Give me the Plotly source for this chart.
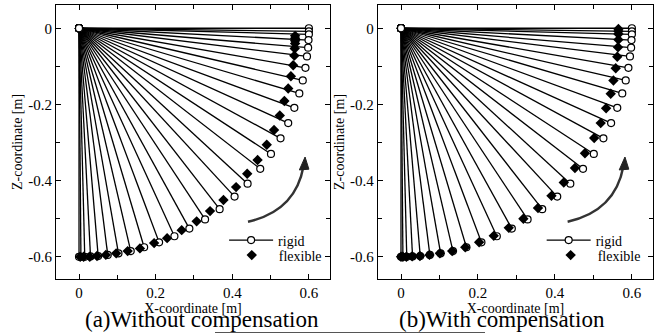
import plotly.graph_objects as go

# ---- data ----
rigid_x = [0.600, 0.600, 0.600, 0.599, 0.598, 0.595, 0.591, 0.584, 0.575, 0.562,
           0.546, 0.526, 0.501, 0.473, 0.440, 0.406, 0.367, 0.329, 0.288, 0.249,
           0.209, 0.170, 0.135, 0.103, 0.075, 0.050, 0.030, 0.015, 0.005, 0.000]
rigid_z = [0.000, -0.008, -0.016, -0.031, -0.051, -0.074, -0.104, -0.137, -0.171, -0.209,
           -0.249, -0.289, -0.330, -0.369, -0.408, -0.442, -0.475, -0.502, -0.526, -0.546,
           -0.562, -0.575, -0.585, -0.591, -0.595, -0.598, -0.599, -0.600, -0.600, -0.600]

flex_a_x = [0.564, 0.564, 0.564, 0.564, 0.563, 0.562, 0.559, 0.553, 0.546, 0.536,
            0.524, 0.509, 0.490, 0.466, 0.439, 0.410, 0.377, 0.342, 0.307, 0.268,
            0.230, 0.196, 0.159, 0.127, 0.097, 0.070, 0.047, 0.028, 0.012, 0.003]
flex_a_z = [-0.020, -0.026, -0.033, -0.040, -0.053, -0.072, -0.097, -0.126, -0.158, -0.191,
            -0.229, -0.267, -0.306, -0.346, -0.382, -0.417, -0.451, -0.480, -0.507, -0.530,
            -0.551, -0.564, -0.578, -0.585, -0.591, -0.595, -0.598, -0.600, -0.600, -0.600]

flex_b_x = [0.565, 0.565, 0.565, 0.565, 0.564, 0.562, 0.558, 0.552, 0.545, 0.533,
            0.519, 0.502, 0.478, 0.452, 0.423, 0.391, 0.356, 0.318, 0.280, 0.241,
            0.203, 0.167, 0.133, 0.101, 0.074, 0.049, 0.029, 0.014, 0.005, 0.000]
flex_b_z = [-0.002, -0.008, -0.015, -0.030, -0.050, -0.075, -0.105, -0.137, -0.172, -0.210,
            -0.249, -0.288, -0.328, -0.367, -0.405, -0.440, -0.472, -0.500, -0.524, -0.545,
            -0.562, -0.575, -0.585, -0.591, -0.595, -0.598, -0.599, -0.600, -0.600, -0.600]

origin = (0.0, 0.0)
x_tick_vals = [0, 0.2, 0.4, 0.6]
x_tick_text = ["0", "0.2", "0.4", "0.6"]
z_tick_vals = [0, -0.2, -0.4, -0.6]
z_tick_text = ["0", "-0.2", "-0.4", "-0.6"]
captions = ["(a)Without compensation", "(b)With compensation"]

FONT = "Liberation Serif, DejaVu Serif, Times New Roman, serif"

def link_lines(xs, zs):
    lx, lz = [], []
    for x, z in zip(xs, zs):
        lx += [origin[0], x, None]
        lz += [origin[1], z, None]
    return lx, lz

fig = go.Figure()
lx, lz = link_lines(rigid_x, rigid_z)

panels = [("x", "y", "legend", "legend3", flex_a_x, flex_a_z),
          ("x2", "y2", "legend2", "legend4", flex_b_x, flex_b_z)]
for xa, ya, lg_r, lg_f, fx, fz in panels:
    fig.add_trace(go.Scatter(
        x=lx, y=lz, mode="lines+markers", name="rigid", xaxis=xa, yaxis=ya, legend=lg_r,
        line=dict(color="black", width=1.3),
        marker=dict(symbol="circle", size=7, color="white", line=dict(color="black", width=1.2)),
    ))
    fig.add_trace(go.Scatter(
        x=fx, y=fz, mode="markers", name="flexible", xaxis=xa, yaxis=ya, legend=lg_f,
        marker=dict(symbol="diamond", size=8, color="black"),
    ))

axis_common = dict(
    showline=True, linecolor="black", linewidth=1.2, mirror="ticks",
    ticks="inside", ticklen=5, tickwidth=1, tickcolor="black",
    showgrid=False, zeroline=False, automargin=False,
    tickfont=dict(family=FONT, size=15, color="black"),
    minor=dict(ticks="inside", ticklen=4, tickcolor="black", showgrid=False),
)

xa_common = dict(axis_common, range=[-0.06, 0.655], tickvals=x_tick_vals, ticktext=x_tick_text,
                 title=dict(text="X-coordinate [m]", font=dict(family=FONT, size=14, color="black"), standoff=0))
xa_common["minor"] = dict(axis_common["minor"], dtick=0.1, tick0=0)
ya_common = dict(axis_common, range=[-0.658, 0.061], tickvals=z_tick_vals, ticktext=z_tick_text,
                 title=dict(text="Z-coordinate [m]", font=dict(family=FONT, size=14, color="black"), standoff=2))
ya_common["minor"] = dict(axis_common["minor"], dtick=0.1, tick0=0)

leg_common = dict(xanchor="left", yanchor="top", bgcolor="rgba(0,0,0,0)",
                  font=dict(family=FONT, size=14, color="black"), itemwidth=44)

fig.update_layout(
    width=663, height=334,
    margin=dict(l=0, r=0, t=0, b=0, autoexpand=False),
    paper_bgcolor="white", plot_bgcolor="white",
    font=dict(family=FONT, color="black"),
    xaxis=dict(xa_common, domain=[0.0845, 0.4977], anchor="y"),
    yaxis=dict(ya_common, domain=[0.165, 0.985], anchor="x"),
    xaxis2=dict(xa_common, domain=[0.570, 0.985], anchor="y2"),
    yaxis2=dict(ya_common, domain=[0.165, 0.985], anchor="x2"),
    legend=dict(leg_common, x=0.338, y=0.328),
    legend3=dict(leg_common, x=0.339, y=0.283),
    legend2=dict(leg_common, x=0.817, y=0.328),
    legend4=dict(leg_common, x=0.820, y=0.283),
    showlegend=True,
)

# curved rotation arrows (decoration)
arrows = [("x", "y", 0.0), ("x2", "y2", -0.008)]
for xr, yr, dx in arrows:
    fig.add_shape(type="path", xref=xr, yref=yr,
                  path=f"M {0.441+dx},-0.508 Q {0.565+dx},-0.480 {0.586+dx},-0.362",
                  line=dict(color="#333333", width=2.5))
    fig.add_shape(type="path", xref=xr, yref=yr,
                  path=f"M {0.590+dx},-0.338 L {0.575+dx},-0.372 L {0.600+dx},-0.370 Z",
                  fillcolor="#222222", line=dict(color="#222222", width=1))

for txt, xc in zip(captions, [0.304, 0.757]):
    fig.add_annotation(text=txt, xref="paper", yref="paper", x=xc, y=0.044,
                       xanchor="center", yanchor="middle", showarrow=False,
                       font=dict(family=FONT, size=23, color="black"))

fig.add_shape(type="line", xref="paper", yref="paper", x0=215/663, x1=485/663, y0=1.5/334, y1=1.5/334,
              line=dict(color="#555555", width=1))

fig.write_html("out.html", config={"displayModeBar": False},
               post_script="document.body.style.margin='0px';document.body.style.overflow='hidden';")
